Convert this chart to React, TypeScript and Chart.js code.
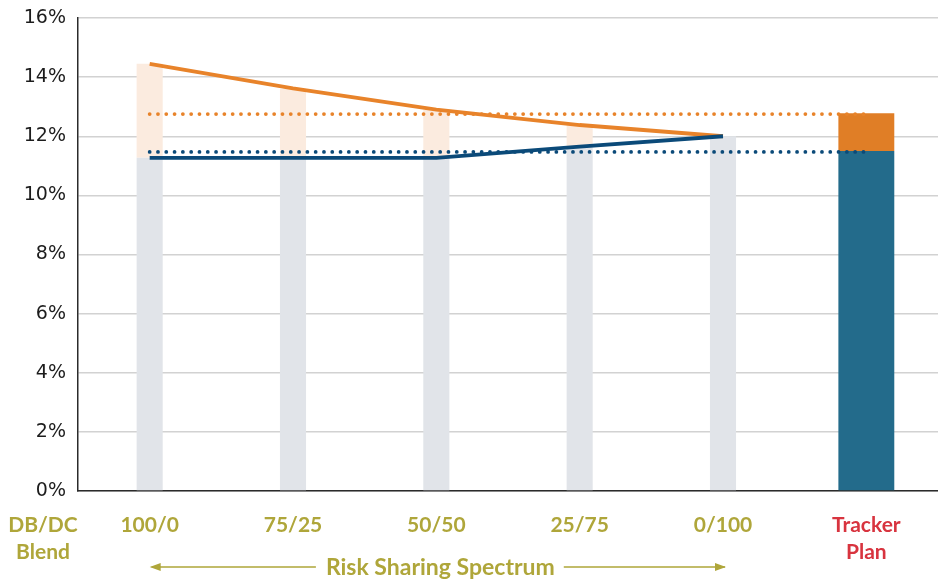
import React, { useEffect, useRef } from "react";
import { Chart, registerables } from "chart.js";

Chart.register(...registerables);

const categories: (string | string[])[] = ["100/0", "75/25", "50/50", "25/75", "0/100", ["Tracker", "Plan"]];
const baseValues = [11.27, 11.27, 11.27, 11.65, 12.0, null];
const upperValues = [14.45, 13.6, 12.9, 12.38, 12.0, null];
const trackerLow = [null, null, null, null, null, 11.5];
const trackerHigh = [null, null, null, null, null, 12.78];
const orangeLine = [14.45, 13.62, 12.9, 12.38, 12.0, null];
const blueLine = [11.27, 11.27, 11.27, 11.65, 12.0, null];
const orangeRef = [12.75, 12.75, 12.75, 12.75, 12.75, 12.75];
const blueRef = [11.47, 11.47, 11.47, 11.47, 11.47, 11.47];
const yTicks = [0, 2, 4, 6, 8, 10, 12, 14, 16];

const OLIVE = "#afa63a";
const RED = "#d8343f";

const extrasPlugin = {
  id: "extras",
  afterDraw(chart: any) {
    const ctx = chart.ctx;
    const x = chart.scales.x;
    ctx.save();
    ctx.fillStyle = OLIVE;
    ctx.font = "bold 21px Lato";
    ctx.textAlign = "center";
    ctx.textBaseline = "middle";
    ctx.fillText("DB/DC", 43, 525);
    ctx.fillText("Blend", 43, 552);
    const x0 = x.getPixelForValue(0);
    const x4 = x.getPixelForValue(4);
    const y = 567;
    const label = "Risk Sharing Spectrum";
    const mid = (x0 + x4) / 2 + 4;
    ctx.font = "bold 23px Lato";
    ctx.fillText(label, mid, 568);
    const w = ctx.measureText(label).width;
    ctx.strokeStyle = OLIVE;
    ctx.lineWidth = 1.5;
    ctx.beginPath();
    ctx.moveTo(x0 + 2, y);
    ctx.lineTo(mid - w / 2 - 10, y);
    ctx.moveTo(mid + w / 2 + 9, y);
    ctx.lineTo(x4 + 2, y);
    ctx.stroke();
    ctx.beginPath();
    ctx.moveTo(x0, y);
    ctx.lineTo(x0 + 11, y - 4);
    ctx.lineTo(x0 + 11, y + 4);
    ctx.closePath();
    ctx.fill();
    ctx.beginPath();
    ctx.moveTo(x4 + 3, y);
    ctx.lineTo(x4 - 8, y - 4);
    ctx.lineTo(x4 - 8, y + 4);
    ctx.closePath();
    ctx.fill();
    ctx.restore();
  },
};

export default function App() {
  const ref = useRef<HTMLCanvasElement | null>(null);
  useEffect(() => {
    document.body.style.margin = "0";
    const canvas = ref.current!;
    const range = (a: (number | null)[], b: (number | null)[]) =>
      a.map((v, i) => (v === null || b[i] === null ? null : [v, b[i]]));
    const zeroTo = (a: (number | null)[]) => a.map((v) => (v === null ? null : [0, v]));
    const chart = new Chart(canvas, {
      type: "bar",
      data: {
        labels: categories,
        datasets: [
          {
            type: "line",
            data: blueLine,
            borderColor: "#0b4a79",
            borderWidth: 3.8,
            pointRadius: 0,
            order: 1,
          } as any,
          {
            type: "line",
            data: orangeLine,
            borderColor: "#e8832a",
            borderWidth: 3.8,
            pointRadius: 0,
            order: 2,
          } as any,
          {
            type: "line",
            data: orangeRef,
            borderColor: "#e8832a",
            borderWidth: 3.8,
            borderDash: [0, 8.3],
            borderCapStyle: "round",
            pointRadius: 0,
            order: 3,
          } as any,
          {
            type: "line",
            data: blueRef,
            borderColor: "#0b4a79",
            borderWidth: 3.8,
            borderDash: [0, 8.3],
            borderCapStyle: "round",
            pointRadius: 0,
            order: 3,
          } as any,
          {
            data: zeroTo(baseValues),
            backgroundColor: "#e1e4e9",
            barPercentage: 0.182,
            categoryPercentage: 1,
            grouped: false,
            order: 10,
          } as any,
          {
            data: range(baseValues, upperValues),
            backgroundColor: "#fbebdf",
            barPercentage: 0.182,
            categoryPercentage: 1,
            grouped: false,
            order: 10,
          } as any,
          {
            data: zeroTo(trackerLow),
            backgroundColor: "#236b8b",
            barPercentage: 0.39,
            categoryPercentage: 1,
            grouped: false,
            order: 10,
          } as any,
          {
            data: range(trackerLow, trackerHigh),
            backgroundColor: "#e07e26",
            barPercentage: 0.39,
            categoryPercentage: 1,
            grouped: false,
            order: 10,
          } as any,
        ],
      },
      options: {
        animation: false,
        responsive: false,
        maintainAspectRatio: false,
        layout: { padding: { top: 18, right: 0, left: 0, bottom: 0 } },
        plugins: { legend: { display: false }, tooltip: { enabled: false } },
        scales: {
          x: {
            grid: { display: false, drawTicks: false },
            border: { display: true, color: "#2b2b2b", width: 1.5 },
            ticks: {
              padding: 21,
              maxRotation: 0,
              autoSkip: false,
              font: { family: "Lato", weight: "bold", size: 21, lineHeight: 1.28 },
              color: (c: any) => (c.index === 5 ? RED : OLIVE),
            },
            afterFit: (s: any) => {
              s.height = 95;
              s.paddingLeft = 0;
              s.paddingRight = 0;
            },
          },
          y: {
            min: 0,
            max: 16,
            afterBuildTicks: (s: any) => {
              s.ticks = yTicks.map((v) => ({ value: v }));
            },
            grid: { color: "#d2d2d2", lineWidth: 1.5, drawTicks: false },
            border: { display: true, color: "#2b2b2b", width: 1.5 },
            ticks: {
              padding: 12,
              font: { family: "DejaVu Sans", size: 19 },
              color: "#1c1c1c",
              callback: (v: any) => v + "%",
            },
            afterFit: (s: any) => {
              s.width = 78;
              s.paddingTop = 0;
              s.paddingBottom = 0;
            },
          },
        },
      },
      plugins: [extrasPlugin],
    });
    return () => chart.destroy();
  }, []);
  return (
    <div style={{ width: 938, height: 586 }}>
      <canvas ref={ref} width={938} height={586} style={{ display: "block" }} />
    </div>
  );
}
